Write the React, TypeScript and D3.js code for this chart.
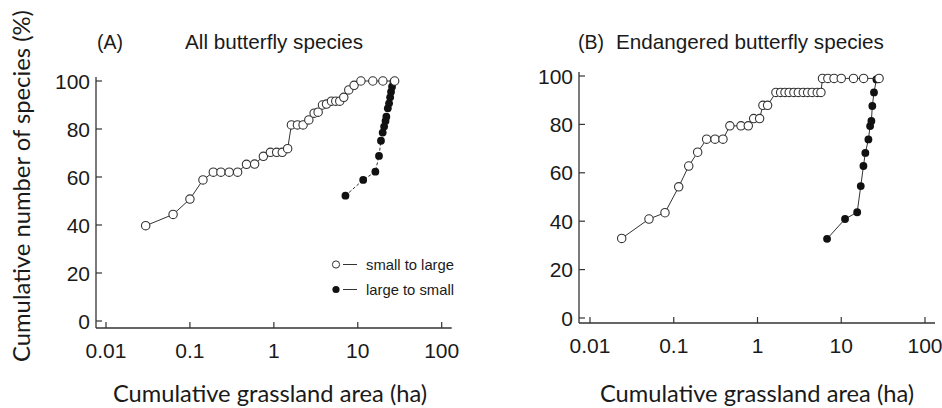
import * as d3 from 'd3';

// tick values
const yTicks = [0, 20, 40, 60, 80, 100];
const xTicks = [0.01, 0.1, 1, 10, 100];
const xTickLabels = ['0.01', '0.1', '1', '10', '100'];

// (A) all species, small to large
const areaA_s2l = [0.0297, 0.063, 0.1, 0.143, 0.19, 0.234, 0.294, 0.37, 0.472, 0.59, 0.75, 0.91, 1.08, 1.26, 1.46, 1.62, 1.91, 2.23, 2.61, 3.02, 3.37, 3.8, 4.24, 4.86, 5.47, 6.1, 6.81, 7.81, 9.04, 10.9, 15.1, 19.9, 27.5];
const pctA_s2l = [39.7, 44.4, 50.8, 58.8, 62, 62, 62, 62, 65.3, 65.4, 68.6, 70.3, 70.3, 70.3, 71.8, 81.7, 81.7, 81.7, 83.8, 86.6, 87, 90, 90.4, 91.6, 91.6, 91.6, 93.2, 96.3, 98.2, 100, 100, 100, 100];
// (A) all species, large to small
const areaA_l2s = [7.13, 11.6, 16.2, 17.9, 18.9, 19.8, 20.6, 21.4, 21.9, 22.8, 23.6, 24.3, 24.9, 25.6, 26.6];
const pctA_l2s = [52.2, 58.8, 62.2, 68.8, 75.1, 78.5, 81, 83.3, 85.1, 88.6, 90.7, 93.2, 95.5, 97.6, 99.7];

// (B) endangered species, small to large
const areaB_s2l = [0.0239, 0.0506, 0.0786, 0.1146, 0.151, 0.193, 0.247, 0.311, 0.387, 0.468, 0.635, 0.776, 0.9, 1.06, 1.16, 1.32, 1.66, 1.89, 2.13, 2.39, 2.72, 3.07, 3.52, 3.97, 4.5, 5.17, 5.72, 5.97, 6.92, 8.2, 10, 14, 18.5, 28.3];
const pctB_s2l = [32.9, 40.9, 43.5, 54.2, 62.8, 68.5, 73.9, 73.9, 73.9, 79.4, 79.4, 79.4, 82.4, 82.4, 87.9, 87.9, 93.2, 93.2, 93.2, 93.2, 93.2, 93.2, 93.2, 93.2, 93.2, 93.2, 93.2, 99, 99, 99, 99, 99, 99, 99];
// (B) endangered species, large to small
const areaB_l2s = [6.77, 11.1, 15.5, 17.1, 18.4, 19.4, 21.1, 22.1, 22.9, 23.5, 24.6, 26.3];
const pctB_l2s = [32.7, 40.9, 43.7, 54.5, 62.8, 68.2, 73.8, 79.3, 81.4, 87.6, 93.2, 98.6];

const legendLabels = ['small to large', 'large to small'];

const AXIS = '#333';
const TEXT = '#1a1a1a';
const TICK_FONT = '"Liberation Sans Narrow", "Liberation Sans", Arial, sans-serif';
const HEAD_FONT = '"Liberation Sans", Arial, sans-serif';
const TITLE_FONT = 'Lato, Calibri, sans-serif';

interface Pt { x: number; y: number }
const zip = (xs: number[], ys: number[]): Pt[] => xs.map((x, i) => ({ x, y: ys[i] }));

interface PanelProps {
  tag: string;
  title: string;
  tagX: number;
  titleX: number;
  axisX: number;
  axisY: number;
  xRange: [number, number];
  yRange: [number, number];
  open: Pt[];
  filled: Pt[];
  dashed: boolean;
  legend: boolean;
  xLabelX: number;
}

function Panel(p: PanelProps) {
  const x = d3.scaleLog().domain([0.01, 100]).range(p.xRange);
  const y = d3.scaleLinear().domain([0, 100]).range(p.yRange);
  const line = d3.line<Pt>().x(d => x(d.x)).y(d => y(d.y));
  const yTop = y(100) - 4;
  const xEnd = x(100) + 10;

  return (
    <g>
      <text x={p.tagX} y={49} fontFamily={HEAD_FONT} fontSize={19.5} fill={TEXT}>{p.tag}</text>
      <text x={p.titleX} y={49} fontFamily={HEAD_FONT} fontSize={20.7} fill={TEXT}>{p.title}</text>

      {/* axes */}
      <line x1={p.axisX} x2={p.axisX} y1={yTop} y2={p.axisY} stroke={AXIS} strokeWidth={1.3} />
      <line x1={p.axisX} x2={xEnd} y1={p.axisY} y2={p.axisY} stroke={AXIS} strokeWidth={1.3} />
      {yTicks.map(t => (
        <g key={'y' + t}>
          <line x1={p.axisX} x2={p.axisX + 6} y1={y(t)} y2={y(t)} stroke={AXIS} strokeWidth={1.2} />
          <text x={p.axisX - 6} y={y(t) + 7.5} textAnchor="end" fontFamily={TICK_FONT} fontSize={21} fill={TEXT}>{t}</text>
        </g>
      ))}
      {xTicks.map((t, i) => (
        <g key={'x' + t}>
          <line x1={x(t)} x2={x(t)} y1={p.axisY} y2={p.axisY - 6} stroke={AXIS} strokeWidth={1.2} />
          <text x={x(t)} y={p.axisY + 30} textAnchor="middle" fontFamily={TICK_FONT} fontSize={21} fill={TEXT}>{xTickLabels[i]}</text>
        </g>
      ))}

      {/* large to small */}
      <path d={line(p.filled) || ''} fill="none" stroke={AXIS} strokeWidth={1} strokeDasharray={p.dashed ? '3,2' : undefined} />
      {p.filled.map((d, i) => (
        <circle key={'f' + i} cx={x(d.x)} cy={y(d.y)} r={3.9} fill="#111" />
      ))}

      {/* small to large */}
      <path d={line(p.open) || ''} fill="none" stroke={AXIS} strokeWidth={1} />
      {p.open.map((d, i) => (
        <circle key={'o' + i} cx={x(d.x)} cy={y(d.y)} r={4.2} fill="#fff" stroke={AXIS} strokeWidth={1.1} />
      ))}

      {p.legend && (
        <g>
          <circle cx={336} cy={264.5} r={3.6} fill="#fff" stroke={AXIS} strokeWidth={1} />
          <line x1={343} x2={357} y1={264.5} y2={264.5} stroke={AXIS} strokeWidth={1} />
          <text x={366} y={269.5} fontFamily={TICK_FONT} fontSize={14.8} fill={TEXT}>{legendLabels[0]}</text>
          <circle cx={336} cy={289.5} r={3.6} fill="#111" />
          <line x1={343} x2={357} y1={289.5} y2={289.5} stroke={AXIS} strokeWidth={1} />
          <text x={366} y={294.5} fontFamily={TICK_FONT} fontSize={14.8} fill={TEXT}>{legendLabels[1]}</text>
        </g>
      )}

      <text x={p.xLabelX} y={402} textAnchor="middle" fontFamily={TITLE_FONT} fontSize={23.7} fill={TEXT}>Cumulative grassland area (ha)</text>
    </g>
  );
}

export default function App() {
  return (
    <svg width={942} height={408} style={{ position: 'absolute', left: 0, top: 0, background: '#fff' }}>
      <rect width={942} height={408} fill="#fff" />
      <text transform="translate(30,186) rotate(-90)" textAnchor="middle" fontFamily={TITLE_FONT} fontSize={23.8} fill={TEXT}>
        Cumulative number of species (%)
      </text>
      <Panel
        tag="(A)" title="All butterfly species" tagX={97} titleX={185}
        axisX={96} axisY={328} xRange={[106, 441.7]} yRange={[321, 81]}
        open={zip(areaA_s2l, pctA_s2l)} filled={zip(areaA_l2s, pctA_l2s)}
        dashed legend xLabelX={270}
      />
      <Panel
        tag="(B)" title="Endangered butterfly species" tagX={578} titleX={616}
        axisX={579} axisY={323} xRange={[590, 925]} yRange={[318, 76]}
        open={zip(areaB_s2l, pctB_s2l)} filled={zip(areaB_l2s, pctB_l2s)}
        dashed={false} legend={false} xLabelX={757}
      />
    </svg>
  );
}
